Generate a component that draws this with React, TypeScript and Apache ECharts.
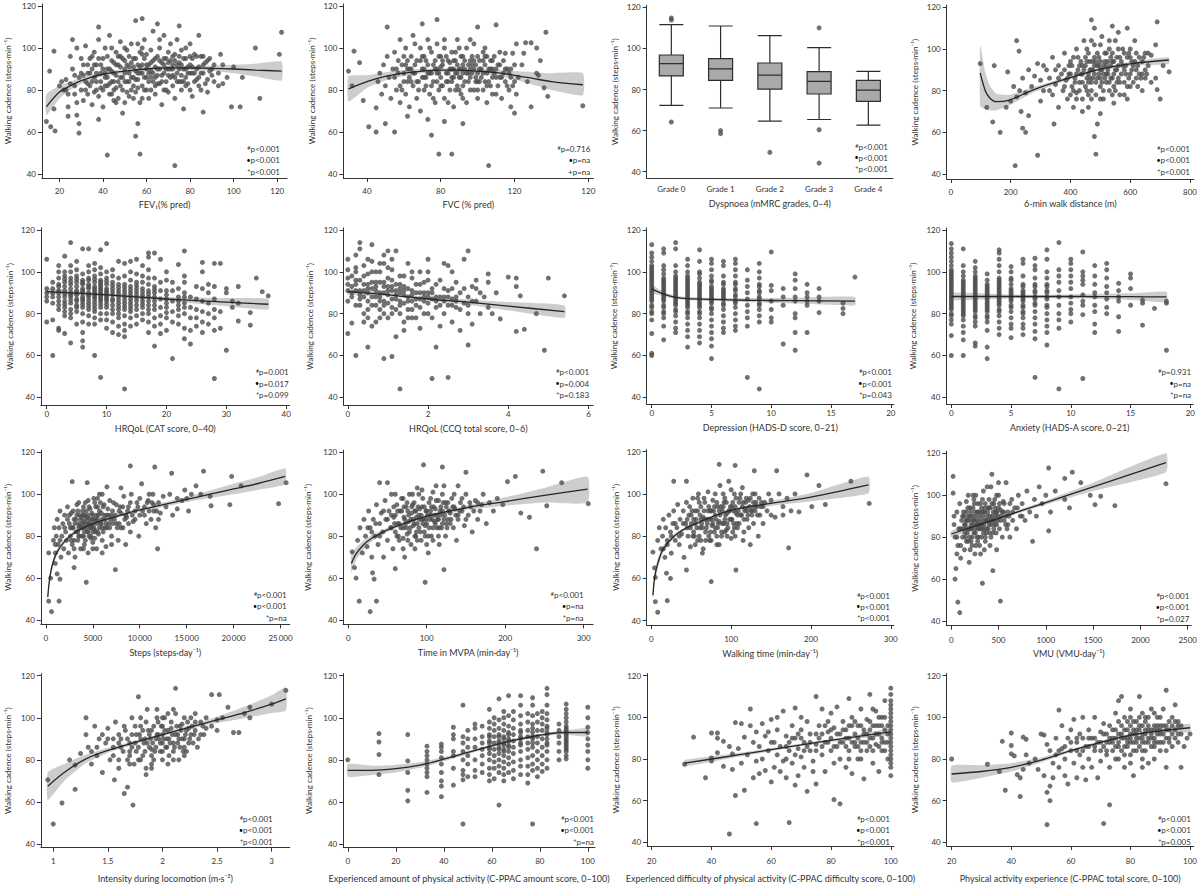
import React, { useEffect, useRef } from "react";
import * as echarts from "echarts";

const INK = "#333333";
const DOT = "#4d4d4d";
const FONT = "Lato, 'Noto Sans', sans-serif";
const CADENCE = "Walking cadence (steps·min⁻¹)";

// ---- scatter points, flat [x, y, x, y, ...] ----
const fev1Points = [
  14,65, 15.5,89, 16,62.5, 17.5,98.5, 18,60.5, 17.5,71, 24,67.5, 26,104, 28,68, 29,59.5, 29,64, 38,66, 38,110,
  42,49, 55,58, 56,64, 57,49.5, 73,44, 55,113, 58,114, 65,111.5, 75,110.5, 110,100, 103,72, 99,72, 112,76,
  122,107.5, 121,97, 104,86, 86,69.5, 94,97, 84,106, 95,83, 88,79,
  20,82, 21,84, 22,80, 23,85, 24,78, 24,72, 25,96, 25,83, 26,90, 27,87, 27,78, 28,100, 28,74, 29,86, 30,95,
  30,80, 31,92, 31,75, 32,101, 32,84, 33,88, 33,78, 34,95, 34,82, 35,73, 35,90, 36,86, 36,98, 37,80, 37,92,
  38,77, 38,104, 39,88, 39,84, 40,95, 40,72, 41,82, 41,100, 42,90, 42,86, 43,106, 43,78, 44,94, 44,84, 45,75,
  45,88, 46,98, 46,81, 47,92, 47,76, 48,86, 48,103, 49,80, 49,69, 50,94, 50,88, 51,84, 51,99, 52,77, 52,91,
  53,86, 53,102, 54,82, 54,95, 55,79, 55,89, 56,92, 56,85, 57,98, 57,74, 58,88, 58,82, 59,95, 59,104, 60,86,
  60,80, 61,92, 61,76, 62,89, 62,99, 63,84, 63,108, 64,91, 64,78, 65,87, 65,96, 66,83, 66,100, 67,93, 67,73,
  68,88, 68,106, 69,84, 69,95, 70,90, 70,79, 71,102, 71,86, 72,92, 72,82, 73,97, 73,76, 74,88, 74,104, 75,84,
  75,93, 76,80, 76,99, 77,90, 77,71, 78,86, 78,95, 79,83, 80,92, 80,102, 81,88, 81,77, 82,97, 83,85, 84,91,
  85,96, 85,80, 86,88, 87,93, 88,85, 89,95, 90,90, 91,84, 93,88, 95,92, 97,86, 100,91,
  35,84, 36,79, 37,88, 38,95, 39,81, 40,90, 41,86, 42,96, 43,83, 44,89, 45,93, 46,87, 47,84, 48,91, 49,95, 50,84,
  51,79, 52,88, 53,93, 54,86, 55,95, 56,81, 57,88, 58,92, 59,86, 60,97, 61,84, 62,93, 63,88, 64,95, 65,83, 66,90,
  67,87, 68,95, 69,80, 70,93, 71,90, 72,87, 73,94, 74,84, 75,90, 76,87, 77,95, 78,82, 79,91, 80,88, 81,95, 82,84,
  83,90, 84,86, 86,92, 88,94, 90,87, 44,78, 46,74, 48,96, 52,96, 56,102, 60,92, 64,86, 68,80, 72,96, 76,92, 80,80,
  62,80, 58,76, 54,76, 50,74, 45,80, 40,80, 33,92, 30,88, 27,82, 23,80,
];
const fev1Core = [
  31,87, 33,83, 35,96, 37,84, 39,92, 41,88, 43,90, 45,84, 47,96, 49,86, 51,92, 53,80, 55,85, 57,91, 59,80, 61,88,
  63,94, 65,90, 67,84, 69,90, 71,94, 73,86, 75,96, 77,84, 79,88, 81,91, 83,96, 85,88, 87,83, 89,89, 91,92, 93,82,
  42,82, 46,92, 50,90, 54,91, 58,97, 62,86, 66,94, 70,87, 74,92, 78,90, 82,88, 86,96, 48,82, 52,84, 56,88, 60,90,
  64,82, 68,92, 72,90, 76,84, 80,96, 84,82, 44,100, 50,100, 58,100, 66,104, 70,98, 78,100, 36,92, 34,88, 32,80,
];

const fvcPoints = [
  30,89, 33,98.5, 32,82, 36,93, 38,75, 41,62.5, 45,60, 45,71.5, 50,64, 51,110, 55,60, 62,67.5, 70,111.5, 73,66,
  75,58.5, 79,49.5, 78,113.5, 82,65, 86,49.5, 92,64, 106,44, 110,111, 100,110, 120,69, 118,72, 129,72, 137,107.5,
  138,77, 136,81, 134,94, 132,100, 157,72.5, 126,102.5, 129,102.5, 121,102, 125,97.5, 119,97.5, 115,97.5,
  46,84, 47,88, 48,78, 49,92, 50,82, 51,96, 52,86, 53,76, 54,90, 55,98, 56,80, 57,88, 58,104, 58,74, 59,92,
  60,84, 61,100, 61,78, 62,90, 63,86, 63,72, 64,96, 65,82, 65,106, 66,88, 67,94, 67,76, 68,84, 69,100, 69,70,
  70,90, 71,80, 71,96, 72,86, 73,104, 73,92, 74,78, 75,88, 75,98, 76,84, 77,94, 77,74, 78,90, 78,102, 79,80,
  80,86, 80,96, 81,92, 82,76, 82,100, 83,88, 84,84, 84,94, 85,80, 86,90, 86,98, 87,72, 87,86, 88,94, 89,82,
  89,104, 90,90, 91,86, 91,78, 92,96, 92,88, 93,84, 94,100, 94,74, 95,92, 96,86, 96,80, 97,96, 98,90, 98,102,
  99,84, 100,88, 100,76, 101,94, 102,86, 103,80, 103,98, 104,92, 105,88, 105,74, 106,84, 107,94, 108,90, 108,78,
  109,96, 110,86, 111,82, 112,92, 113,76, 114,88, 115,84, 116,90, 117,80, 118,86, 120,92, 121,78, 122,86, 124,92,
  127,84, 132,88, 133,87,
  60,88, 62,94, 64,84, 66,92, 68,80, 70,86, 72,94, 74,88, 76,92, 78,84, 80,91, 81,82, 83,96, 84,88, 85,93, 86,84,
  87,90, 88,80, 89,92, 90,86, 91,96, 92,82, 93,90, 94,88, 95,84, 96,94, 97,88, 98,80, 99,92, 100,96, 101,84,
  102,90, 103,88, 104,84, 105,96, 106,90, 107,82, 108,94, 110,90, 112,86, 114,94, 116,82, 118,90, 120,84, 56,90,
  58,82, 60,96, 66,102, 74,100, 82,104, 90,100, 96,104, 104,100, 112,98, 76,76, 84,74, 92,76, 100,80, 110,78,
  88,98, 79,96, 71,90,
];
const fvcCore = [
  55,86, 57,94, 59,80, 61,92, 63,90, 65,88, 67,84, 69,94, 71,86, 73,88, 75,82, 77,90, 79,88, 81,94, 83,84, 85,90,
  87,94, 89,88, 91,90, 93,94, 95,88, 97,92, 99,86, 101,90, 103,94, 105,82, 107,90, 109,88, 111,92, 113,86, 115,90,
  117,88, 119,82, 64,90, 72,82, 80,82, 88,88, 96,90, 104,96, 86,86, 92,92, 98,94, 78,88, 70,96, 62,84, 90,80,
  100,84, 108,86,
];

const walkDistPoints = [
  98,93, 120,72, 140,65, 145,92, 165,60, 190,89, 185,72, 210,82, 215,44, 220,104, 228,99, 235,70, 240,62, 250,60,
  260,68, 290,49, 300,75, 345,64, 480,58, 485,49.5, 490,64, 500,69, 470,114, 480,110, 540,111, 590,110, 690,113,
  700,76, 690,80.5, 730,89, 710,92, 685,102, 685,86, 670,97, 650,98,
  200,75, 220,77, 230,80, 240,86, 250,79, 260,90, 270,82, 280,87, 290,93, 300,85, 310,80, 320,90, 330,86, 340,96,
  340,78, 350,83, 360,92, 360,72, 370,88, 375,80, 380,98, 385,85, 390,76, 395,92, 400,88, 405,82, 410,96, 410,72,
  415,86, 420,100, 420,79, 425,90, 430,84, 435,94, 440,76, 440,88, 445,104, 450,82, 450,92, 455,86, 460,98,
  460,72, 465,90, 470,84, 470,80, 475,94, 480,88, 480,102, 485,78, 490,92, 490,86, 495,96, 500,82, 500,90,
  505,106, 510,88, 510,76, 515,94, 520,84, 520,98, 525,90, 530,80, 530,100, 535,86, 540,94, 545,74, 545,88,
  550,104, 555,84, 560,92, 565,96, 565,78, 570,88, 575,100, 580,84, 585,92, 590,76, 595,98, 600,88, 605,94,
  610,84, 615,104, 620,90, 625,82, 630,96, 640,88, 650,86, 660,92, 670,84,
  380,90, 390,86, 400,94, 410,80, 420,88, 430,92, 440,84, 450,96, 455,80, 460,88, 465,94, 470,90, 475,86, 480,96,
  485,84, 490,98, 495,88, 500,94, 505,84, 510,92, 515,98, 520,88, 525,94, 530,84, 535,92, 540,98, 545,82, 550,90,
  555,96, 560,86, 570,94, 580,90, 590,96, 600,82, 610,92, 620,98, 630,88, 640,94, 650,90, 660,98, 455,100,
  470,104, 500,102, 530,104, 560,108, 600,100, 350,90, 330,80, 310,92, 420,76, 440,70, 460,78, 500,76, 540,78,
  580,78, 620,86, 640,80,
];
const walkDistCore = [
  395,88, 405,92, 415,84, 425,96, 435,88, 445,90, 455,94, 465,86, 475,90, 485,94, 495,92, 505,90, 515,86, 525,88,
  535,96, 545,94, 555,90, 565,84, 575,92, 585,88, 595,86, 605,90, 615,94, 625,92, 635,86, 645,96, 655,88, 430,80,
  470,76, 510,80, 550,80, 590,82, 480,92, 500,86, 520,92, 460,84, 440,92, 540,86, 560,100, 580,98, 600,96, 380,82,
  360,86, 400,78,
];

// strips: [x, [y values]]
const catStrips: [number, number[]][] = [
  [0, [76, 86, 88, 90, 92, 106]],
  [1, [60, 77, 85, 88, 90, 92, 95]],
  [2, [72, 73, 82, 86, 88, 91, 94, 97, 100, 103]],
  [3, [70.5, 79, 83, 86, 88, 91, 93, 95, 98, 100, 107.5]],
  [4, [66, 78, 82, 85, 88, 90, 92, 94, 97, 100, 103, 114]],
  [5, [75, 81, 84, 87, 89, 91, 93, 95, 98, 101, 105]],
  [6, [64, 67, 71, 76, 80, 83, 86, 88, 90, 92, 94, 96, 99, 111]],
  [7, [75, 79, 82, 85, 88, 90, 92, 94, 97, 100, 103, 111]],
  [8, [60, 75, 78, 81, 84, 87, 89, 91, 93, 95, 98, 101, 104]],
  [9, [49.5, 77, 80, 83, 86, 88, 90, 92, 94, 96, 99, 102, 110.5]],
  [10, [73, 77, 80, 83, 86, 88, 90, 92, 94, 97, 100, 113.5]],
  [11, [71, 76, 80, 84, 87, 89, 92, 95, 98, 101]],
  [12, [70, 74, 78, 82, 85, 88, 91, 94, 97, 105]],
  [13, [44, 69, 72, 75, 79, 82, 85, 88, 91, 94, 98, 104]],
  [14, [74, 78, 81, 84, 87, 90, 93, 96, 100, 105]],
  [15, [75, 79, 82, 86, 89, 92, 95, 99, 106]],
  [16, [77, 80, 83, 86, 89, 92, 95, 98, 103]],
  [17, [71, 76, 80, 84, 88, 91, 94, 97, 101, 107, 109]],
  [18, [64.5, 74, 78, 82, 86, 90, 93, 97, 109]],
  [19, [70.5, 75, 79, 83, 87, 91, 95, 106]],
  [20, [72, 78, 83, 87, 91, 96, 100]],
  [21, [58.5, 76, 81, 86, 91, 95]],
  [22, [75, 79, 84, 88, 92, 103.5]],
  [23, [68, 73, 80, 85, 90, 95, 98, 110]],
  [24, [65.5, 72, 78, 83, 88]],
  [25, [74, 78, 82, 87, 93]],
  [26, [71, 76, 81, 86, 92, 100, 104.5]],
  [27, [75, 80, 85, 90, 94]],
  [28, [49, 72, 78, 82, 87, 93, 104]],
  [29, [73, 81, 104]],
  [30, [62.5, 90, 92]],
  [31, [83, 86]],
  [32, [76.5, 85, 93]],
  [34, [74.5, 80.5]],
  [35, [97]],
  [36, [90.5]],
  [37, [88.5]],
];
const catCore: [number, number[]][] = [
  [2, [84, 90, 93]], [3, [81, 84.5, 89.5, 96.5]], [4, [80, 86.5, 89, 95.5]], [5, [83, 86, 90, 96.5]],
  [6, [84.5, 87, 91, 95]], [7, [83.5, 86.5, 89, 93, 96]], [8, [82.5, 85.5, 88, 90, 92, 96.5]],
  [9, [84.5, 87, 89, 91, 93, 95]], [10, [84.5, 87, 89, 91, 95.5]], [11, [82, 86, 90.5, 93.5]],
  [12, [80, 83.5, 86.5, 89.5, 92.5]], [13, [83.5, 86.5, 89.5, 92.5]], [14, [82.5, 85.5, 88.5, 91.5]],
  [15, [84, 87.5, 90.5, 93.5]], [16, [84.5, 87.5, 90.5]], [17, [82, 86, 89.5]], [18, [84, 88, 91.5]],
  [20, [80.5, 85, 89]], [22, [82, 86]], [23, [83, 88]],
];

const ccqPoints = [
  0,70.5, 0.1,75.5, 0.2,60, 0.5,64, 0.9,58.5, 1.1,59.5, 1.3,44, 2.1,49, 2.5,49.5, 3,65, 2.2,64, 4.9,62.5, 5.4,88.5,
  5,97, 4.7,80, 4.4,72.5, 4.2,71.5, 4,97.5, 4.2,97, 4.2,93, 4.3,88.5, 3.8,77.5, 3.5,99, 3,110,
  0,91, 0,94, 0,97, 0,101, 0,106, 0.1,88, 0.1,93, 0.2,84, 0.2,96, 0.2,100, 0.2,108, 0.3,87, 0.3,91, 0.3,111,
  0.3,114, 0.4,80, 0.4,94, 0.4,103, 0.5,78, 0.5,86, 0.5,90, 0.5,99, 0.6,84, 0.6,92, 0.6,105, 0.6,113, 0.7,76,
  0.7,88, 0.7,95, 0.8,82, 0.8,90, 0.8,100, 0.9,86, 0.9,93, 0.9,108, 1,78, 1,89, 1,97, 1,110, 1.1,83, 1.1,91,
  1.1,101, 1.2,69, 1.2,87, 1.2,94, 1.2,110, 1.3,80, 1.3,90, 1.3,98, 1.4,76, 1.4,85, 1.4,93, 1.5,82, 1.5,88,
  1.5,104, 1.6,78, 1.6,91, 1.6,97, 1.7,84, 1.7,94, 1.8,73, 1.8,87, 1.8,100, 1.9,80, 1.9,90, 2,85, 2,96, 2,106,
  2.1,78, 2.1,92, 2.2,83, 2.2,88, 2.3,74, 2.3,96, 2.4,86, 2.4,80, 2.5,91, 2.5,103, 2.6,76, 2.6,87, 2.7,83,
  2.7,95, 2.8,90, 2.8,72, 2.9,85, 2.9,106, 3,80, 3,88, 3.1,93, 3.1,75, 3.2,86, 3.2,92, 3.3,80, 3.4,88, 3.5,83,
  3.5,95, 3.6,80, 3.7,90,
  0,86, 0.1,98, 0.2,91, 0.3,96, 0.4,88, 0.5,94, 0.6,88, 0.7,91, 0.7,100, 0.8,86, 0.8,95, 0.9,90, 0.9,80, 1,93,
  1,85, 1.1,87, 1.1,96, 1.2,91, 1.2,82, 1.3,86, 1.3,94, 1.4,89, 1.4,98, 1.5,92, 1.5,78, 1.6,86, 1.6,82, 1.7,90,
  1.7,78, 1.8,94, 1.8,83, 1.9,86, 1.9,95, 2,90, 2,80, 2.1,87, 2.2,94, 2.3,88, 2.4,92, 2.5,84, 2.6,92, 2.7,88,
  2.8,82, 2.9,92, 3,84, 3.1,86, 3.2,96, 3.3,90, 0.4,76, 0.6,74, 0.8,78, 1.4,72, 1.6,100, 2,100, 2.4,104, 2.6,100,
  0.5,106, 0.9,104, 1.1,106,
];
const ccqCore = [
  0.1,90, 0.2,94, 0.3,89, 0.4,91, 0.5,92, 0.6,95, 0.7,93, 0.8,88, 0.9,95, 1,91, 1.1,93, 1.2,89, 1.3,92, 1.4,91,
  1.5,86, 1.6,89, 1.7,87, 1.8,90, 1.9,88, 2,88, 2.1,90, 2.2,86, 2.3,84, 2.4,88, 2.5,88, 2.6,84, 2.7,86, 0.3,84,
  0.5,82, 0.7,84, 0.9,84, 1.1,80, 1.3,84, 0.2,102, 0.4,98, 0.6,100, 0.8,104, 1,102,
];

const hadsDStrips: [number, number[]][] = [
  [0, [60, 61, 70.5, 77, 81, 84, 87, 89, 91, 93, 95, 97, 99, 101, 103, 105, 107, 109, 113]],
  [1, [67.5, 74, 78, 81, 84, 87, 89, 91, 93, 95, 97, 99, 103, 109, 111]],
  [2, [71, 73, 76, 79, 82, 85, 87, 89, 91, 93, 95, 97, 100, 103, 111, 114]],
  [3, [64, 69, 72, 75, 78, 81, 84, 86, 88, 90, 92, 94, 96, 98, 100, 103, 106]],
  [4, [66, 69, 72, 75, 78, 81, 84, 86, 88, 90, 92, 94, 97, 100, 105, 110.5]],
  [5, [58.5, 64.5, 68, 71, 74, 77, 80, 83, 86, 88, 90, 92, 95, 98, 101, 104, 106]],
  [6, [71, 73, 76, 79, 82, 85, 88, 90, 92, 95, 98, 103, 105]],
  [7, [72, 74, 77, 80, 83, 86, 89, 92, 95, 98, 101, 104, 106]],
  [8, [49.5, 74, 78, 81, 84, 87, 90, 93, 96, 101]],
  [9, [44, 76, 79, 82, 85, 88, 91, 94, 97, 100, 104]],
  [10, [76, 78, 82, 86, 91, 93.5, 109.5]],
  [11, [65.5, 84, 88, 92]],
  [12, [62.5, 71, 78, 80, 86, 88, 92, 96, 99]],
  [13, [71, 84, 86, 88, 90, 94]],
  [14, [80.5, 86, 88, 92]],
  [16, [80, 82.5, 85]],
  [17, [97.5]],
];
const hadsDCore: [number, number[]][] = [
  [0, [80, 83, 86, 88, 90, 92, 94, 96, 98, 100, 102]], [1, [80, 83, 86, 88, 90, 92, 94, 96, 101]],
  [2, [81, 84, 86, 88, 90, 92, 94, 96, 98]], [3, [80, 83, 85, 87, 89, 91, 93, 95, 97]],
  [4, [80, 83, 85, 87, 89, 91, 93, 95, 99]], [5, [82, 85, 87, 89, 91, 93, 96]], [6, [84, 87, 89, 91, 94]],
  [7, [85, 88, 91, 94]], [9, [84, 87, 90, 93]],
];

const hadsAStrips: [number, number[]][] = [
  [0, [60, 69.5, 75, 77, 80, 83, 85, 87, 89, 91, 93, 95, 97, 99, 101, 103, 105, 107, 109, 111, 113.5]],
  [1, [60, 67.5, 71, 74, 77, 80, 82, 84, 86, 88, 90, 92, 94, 96, 98, 100, 103, 111]],
  [2, [64.5, 66, 74, 76, 79, 82, 84, 86, 88, 90, 92, 94, 96, 98, 100, 102, 105]],
  [3, [58.5, 64, 72, 76, 79, 82, 84, 86, 88, 90, 92, 94, 96, 99]],
  [4, [70, 73, 76, 79, 82, 85, 87, 89, 91, 93, 95, 97, 100, 103, 106, 109, 110.5]],
  [5, [68.5, 73, 75, 78, 81, 84, 87, 89, 91, 94, 97, 100, 102.5]],
  [6, [70, 73, 75, 78, 81, 84, 87, 89, 91, 94, 98, 104, 106]],
  [7, [49.5, 68, 71.5, 75, 78, 81, 85, 88, 91, 94, 97, 101, 103, 106.5]],
  [8, [65, 71, 74, 77, 80, 84, 88, 91, 94, 97, 100, 106, 110.5]],
  [9, [44, 73, 77, 80, 84, 88, 91, 95, 98, 101, 114]],
  [10, [76, 80, 82, 85, 88, 92, 95, 98, 101, 104, 106]],
  [11, [49, 79.5, 84, 86, 89, 94, 96, 98, 100, 109.5]],
  [12, [71, 75, 81, 84, 88, 90, 94, 98, 103]],
  [13, [80, 83, 87, 90, 93, 97, 101, 104]],
  [14, [71.5, 78.5, 86, 88, 91, 94.5]],
  [15, [84, 92, 97, 99]],
  [16, [74.5, 85, 86.5]],
  [17, [82.5]],
  [18, [62.5, 85, 86]],
];
const hadsACore: [number, number[]][] = [
  [0, [79, 82, 84, 86, 88, 90, 92, 94, 96, 98, 100]], [1, [79, 81, 83, 85, 87, 89, 91, 93, 95]],
  [2, [78, 81, 83, 85, 87, 89, 91, 93, 95, 97]], [3, [78, 81, 83, 85, 87, 89, 91, 93]],
  [4, [81, 84, 86, 88, 90, 92, 94, 96]], [5, [83, 86, 88, 90, 92, 96]], [6, [80, 83, 86, 88, 90, 93]],
  [7, [84, 87, 90, 93]], [8, [83, 87, 90, 93]],
];

const stepsPoints = [
  300,72, 300,49, 500,60, 600,44, 1000,67, 1200,62, 1400,49, 1500,59.5, 2800,106, 3000,65, 4300,58, 4400,105.5,
  7400,64, 9000,113.5, 11600,113, 11900,74, 13400,110, 16800,111, 17600,94.5, 19600,95, 19800,108.5, 20800,104,
  24800,95.5, 25600,105.5, 17500,99, 15500,100, 16000,104, 14800,102, 14000,98, 6500,103.5, 8000,103,
  800,78, 900,84, 1000,72, 1100,80, 1200,88, 1300,76, 1400,84, 1500,92, 1600,70, 1700,80, 1800,86, 1900,74,
  2000,90, 2100,82, 2200,78, 2300,94, 2400,72, 2500,86, 2600,80, 2700,91, 2800,76, 2900,84, 3000,88, 3100,70,
  3200,82, 3300,95, 3400,78, 3500,86, 3600,90, 3700,74, 3800,84, 3900,92, 4000,80, 4000,87, 4100,76, 4200,96,
  4300,84, 4400,89, 4500,72, 4500,82, 4600,86, 4700,93, 4800,79, 4900,85, 5000,90, 5000,77, 5100,98, 5200,83,
  5300,88, 5400,74, 5500,94, 5600,81, 5700,100, 5800,86, 5900,91, 6000,78, 6200,95, 6300,84, 6400,75, 6500,90,
  6700,86, 6800,97, 7000,80, 7100,92, 7300,88, 7500,95, 7700,78, 7800,86, 8000,91, 8200,84, 8300,99, 8500,76,
  8600,89, 8800,94, 9000,82, 9100,100, 9300,87, 9500,92, 9700,96, 9900,80, 10000,90, 10200,105, 10500,94,
  10700,86, 10900,97, 11000,92, 11200,88, 11400,100, 11500,95, 11700,84, 12000,96, 12200,91, 12500,99, 12800,94,
  13200,100, 13500,90, 14000,93, 14500,97, 15200,92, 15000,98, 16500,100,
  2500,90, 2800,84, 3000,78, 3200,88, 3400,92, 3500,80, 3600,85, 3800,89, 3900,80, 4000,84, 4100,90, 4200,78,
  4300,88, 4400,82, 4500,86, 4600,80, 4700,88, 4800,84, 4900,91, 5000,82, 5000,86, 5100,88, 5200,79, 5300,94,
  5400,86, 5500,82, 5600,90, 5700,84, 5800,96, 6000,88, 6100,82, 6200,90, 6400,86, 6600,93, 6800,84, 7000,90,
  7200,96, 7500,86, 7800,92, 8000,84, 8200,94, 8500,90, 8800,86, 9000,96, 9500,88, 10000,98, 10500,90, 11000,100,
  11500,92, 12000,88, 3500,96, 4000,94, 4500,97, 5500,98, 6000,100, 2000,84, 1500,78, 1000,76, 3000,74, 4000,74,
  5000,74, 6000,72, 7000,76,
];
const stepsCore = [
  3100,86, 3300,90, 3500,84, 3700,88, 3900,86, 4100,82, 4300,92, 4500,90, 4700,84, 4900,88, 5100,84, 5300,82,
  5500,88, 5700,92, 5900,86, 6100,94, 6300,88, 6500,84, 6700,90, 6900,88, 7100,86, 7400,90, 7600,84, 7900,94,
  8400,88, 8700,92, 9200,90, 9800,94, 10300,92, 10800,96, 11300,96, 11800,92, 2300,88, 2600,84, 2900,92, 3600,80,
  4200,86, 4800,80, 5400,90, 6000,84, 4000,90, 4600,94, 5200,96, 3400,82, 2700,78,
];

const mvpaPoints = [
  5,72.5, 8,65, 10,60, 14,49, 28,44, 36,49, 33,59.5, 31,62.5, 40,105.5, 50,105.5, 60,64.5, 96,114, 98,58, 122,64,
  120,113, 150,110.5, 240,74, 248,111, 272,105.5, 306,95.5, 253,94.5, 231,89, 220,91, 213,108.5, 203,106, 197,95,
  12,78, 15,84, 18,72, 20,88, 22,80, 24,75, 26,92, 28,84, 30,70, 32,88, 34,80, 36,95, 38,76, 40,86, 42,91, 44,82,
  45,70, 47,97, 48,88, 50,78, 52,92, 54,84, 55,100, 57,74, 58,89, 60,82, 62,95, 63,86, 65,78, 66,92, 68,98, 70,84,
  71,89, 72,70, 74,94, 75,81, 77,87, 78,100, 80,76, 81,91, 83,85, 84,96, 86,80, 87,89, 88,103, 90,84, 91,93, 93,78,
  94,88, 95,98, 97,82, 99,92, 100,86, 102,72, 103,96, 105,90, 106,80, 108,101, 110,87, 111,93, 113,84, 115,97,
  116,76, 118,90, 120,86, 122,104, 124,80, 125,94, 127,88, 130,91, 132,98, 134,84, 136,93, 138,78, 140,88, 143,96,
  145,92, 148,85, 150,100, 153,90, 156,94, 158,82, 162,97, 165,88, 168,92, 172,100, 176,86, 180,96, 185,92, 190,98,
  50,88, 55,84, 60,90, 62,80, 65,86, 68,92, 70,79, 72,88, 74,84, 76,92, 78,82, 80,88, 82,95, 84,86, 85,80, 86,92,
  88,86, 90,90, 92,82, 94,94, 96,88, 98,85, 100,92, 102,80, 104,88, 106,94, 108,84, 110,90, 112,97, 114,88,
  116,84, 118,94, 120,92, 122,88, 124,96, 126,84, 128,92, 130,86, 135,94, 140,90, 145,98, 150,88, 160,92, 170,95,
  40,80, 45,92, 30,82, 35,86, 25,84, 60,100, 75,96, 90,100, 105,98, 120,100, 135,100, 140,104, 70,74, 85,74,
  100,76, 115,80,
];
const mvpaCore = [
  55,90, 59,86, 63,92, 67,84, 71,94, 73,86, 77,90, 79,84, 81,94, 83,88, 85,92, 87,82, 89,94, 91,88, 93,90, 95,86,
  97,94, 99,88, 101,90, 103,84, 105,92, 107,88, 109,94, 111,86, 113,90, 115,88, 117,92, 119,84, 121,96, 123,90,
  125,86, 127,96, 129,92, 131,88, 133,94, 137,90, 142,92, 147,94, 155,96, 165,96, 64,80, 76,78, 88,78, 98,80,
  108,78, 58,94, 70,98, 82,100, 94,102, 112,104,
];

const walkTimePoints = [
  2,72.5, 4,65, 5,60.5, 5,49, 8,44, 20,49.5, 24,60, 19,62.5, 28,106, 44,106, 44,64, 75,58.5, 85,114, 106,64,
  105,113.5, 129,111, 157,111, 172,74.5, 195,109, 210,104, 218,95, 201,94, 250,106, 273,95.5, 185,91.5, 165,90,
  8,78, 10,84, 12,74, 14,80, 15,88, 17,70, 18,84, 20,76, 22,90, 24,82, 25,72, 27,86, 28,92, 30,78, 32,84, 33,95,
  35,76, 36,88, 38,81, 40,92, 41,70, 43,86, 44,96, 46,80, 47,90, 49,75, 50,86, 52,98, 53,82, 55,92, 56,88, 58,78,
  59,100, 61,84, 62,94, 64,72, 65,89, 67,96, 68,82, 70,88, 71,101, 73,78, 74,92, 76,85, 77,97, 79,82, 80,90, 82,76,
  83,94, 85,87, 86,104, 88,80, 89,92, 91,86, 92,98, 94,83, 95,91, 97,106, 98,88, 100,79, 101,94, 103,86, 104,100,
  106,91, 108,84, 110,96, 112,90, 114,103, 116,82, 118,93, 120,88, 122,97, 124,76, 126,92, 128,86, 130,100,
  132,94, 134,80, 136,90, 138,96, 140,86, 145,92, 150,97, 155,89, 160,100, 165,94, 170,98, 175,92, 180,100,
  40,86, 45,84, 50,90, 52,80, 55,86, 58,92, 60,80, 62,88, 64,84, 66,92, 68,78, 70,86, 72,94, 74,82, 76,88, 78,92,
  80,84, 82,96, 84,86, 86,90, 88,82, 90,94, 92,88, 94,96, 96,84, 98,92, 100,88, 102,96, 104,84, 106,98, 108,90,
  110,86, 112,100, 114,94, 116,88, 118,96, 120,92, 122,84, 124,98, 126,90, 128,96, 130,92, 135,98, 140,94, 150,90,
  25,80, 30,86, 35,80, 20,78, 15,74, 55,76, 65,74, 75,78, 85,76, 95,80, 105,80, 115,78, 60,96, 80,100,
];
const walkTimeCore = [
  45,88, 49,84, 51,92, 53,88, 57,84, 61,90, 63,86, 67,88, 69,84, 71,92, 73,88, 75,92, 77,86, 79,94, 81,88, 83,84,
  85,92, 87,94, 89,86, 91,96, 93,90, 95,86, 97,92, 99,94, 101,88, 103,92, 105,94, 107,86, 109,92, 111,98, 113,90,
  115,96, 117,92, 119,98, 121,90, 123,94, 125,92, 127,100, 129,94, 131,96, 133,90, 137,94, 142,96, 147,100, 54,80,
  62,78, 72,80, 82,80, 92,82, 102,82, 48,94, 58,98, 66,98, 90,100, 100,102,
];

const vmuPoints = [
  20,109, 20,101, 30,90, 40,60, 50,65, 70,49, 90,44, 60,72, 330,58, 440,64, 520,49.5, 1030,83, 1030,113, 1250,94,
  1370,106, 1470,100, 1520,95.5, 1580,99.5, 1730,95, 2270,105.5, 1280,111, 1200,108, 1100,102, 1200,98,
  30,86, 40,80, 60,92, 70,76, 80,84, 90,96, 100,70, 110,88, 120,80, 130,92, 140,74, 150,86, 160,97, 170,82, 180,90,
  190,68, 200,84, 200,94, 210,78, 220,88, 230,100, 240,82, 250,92, 260,76, 270,86, 280,96, 290,80, 300,90, 310,72,
  320,86, 330,98, 340,82, 350,92, 360,78, 370,88, 380,104, 390,84, 400,94, 410,76, 420,88, 430,110, 440,82,
  450,96, 460,86, 470,92, 480,74, 490,88, 500,100, 510,84, 520,93, 540,80, 550,97, 560,88, 580,106, 590,84,
  600,92, 620,80, 640,98, 650,88, 670,94, 690,84, 710,100, 730,90, 750,96, 780,88, 800,102, 830,92, 860,78,
  880,98, 900,90, 930,104, 960,96, 1000,100, 1050,92,
  100,84, 120,90, 140,86, 150,80, 160,92, 170,88, 180,78, 190,84, 200,90, 210,86, 220,80, 230,94, 240,88, 250,84,
  260,90, 270,80, 280,86, 290,92, 300,84, 310,96, 320,80, 330,88, 340,92, 350,84, 360,96, 370,82, 380,90, 390,94,
  400,86, 410,90, 420,80, 430,96, 440,88, 450,84, 460,98, 470,90, 480,86, 500,94, 520,88, 540,92, 560,96, 580,90,
  600,86, 620,96, 650,92, 700,94, 750,90, 200,74, 250,72, 300,76, 350,74, 180,100, 260,100, 340,102, 420,104,
  500,106, 100,76, 60,80,
];
const vmuCore = [
  125,84, 135,90, 145,82, 155,88, 165,84, 175,94, 185,88, 195,80, 205,92, 215,84, 225,90, 235,86, 245,96, 255,82,
  265,88, 275,92, 285,84, 295,88, 305,86, 315,92, 325,84, 335,90, 345,86, 355,94, 365,88, 375,84, 385,92, 395,88,
  405,82, 415,94, 425,86, 435,90, 445,92, 455,88, 465,94, 475,82, 485,92, 495,90, 510,96, 530,90, 555,92, 575,86,
  610,90, 160,78, 220,76, 280,78, 360,80, 240,98, 320,94, 400,98, 480,100,
];

const intensityPoints = [
  0.95,70.5, 1.0,49.5, 1.08,59.5, 1.2,66, 1.2,77.5, 1.15,80, 1.3,100, 1.56,70.5, 1.65,64, 1.68,67, 1.73,58.5,
  1.85,73, 2.12,114, 2.45,111, 2.52,111, 2.6,105, 2.65,93, 2.7,93, 2.75,102, 2.8,100, 2.8,105, 3.0,106.5, 3.13,113,
  2.5,99, 1.78,110,
  1.25,83, 1.3,92, 1.32,86, 1.35,78, 1.38,96, 1.4,82, 1.42,90, 1.45,74, 1.48,88, 1.5,95, 1.52,80, 1.55,86, 1.57,98,
  1.6,76, 1.62,90, 1.64,84, 1.66,94, 1.68,80, 1.7,88, 1.72,100, 1.74,78, 1.76,92, 1.78,86, 1.8,96, 1.82,82,
  1.84,90, 1.86,104, 1.88,86, 1.9,94, 1.92,80, 1.94,90, 1.96,98, 1.98,88, 2.0,92, 2.0,84, 2.02,100, 2.04,90,
  2.06,82, 2.08,95, 2.1,88, 2.12,102, 2.14,92, 2.16,86, 2.18,97, 2.2,90, 2.22,84, 2.24,95, 2.26,100, 2.28,88,
  2.3,94, 2.32,86, 2.35,98, 2.38,92, 2.4,100, 2.45,96, 1.85,76, 1.95,104, 2.05,78, 1.6,92, 1.7,82, 1.9,85, 2.0,96,
  2.15,80,
  1.5,90, 1.55,82, 1.6,88, 1.65,96, 1.7,84, 1.72,92, 1.75,88, 1.78,80, 1.8,90, 1.82,94, 1.84,84, 1.86,88, 1.88,92,
  1.9,82, 1.92,96, 1.94,86, 1.96,92, 1.98,84, 2.0,88, 2.02,94, 2.04,86, 2.06,90, 2.08,98, 2.1,84, 2.12,92, 2.14,88,
  2.16,96, 2.18,90, 2.2,86, 2.22,94, 2.24,88, 2.26,92, 2.3,98, 2.35,92, 2.4,95, 1.4,86, 1.45,92, 1.35,84, 1.8,100,
  2.0,100, 2.1,104, 1.9,76, 2.0,80, 2.2,82, 2.5,94, 2.55,100,
];
const intensityCore = [
  1.55,90, 1.62,86, 1.68,90, 1.72,86, 1.76,84, 1.79,92, 1.83,88, 1.87,94, 1.89,90, 1.91,88, 1.93,84, 1.95,92,
  1.97,90, 1.99,96, 2.01,90, 2.03,86, 2.05,94, 2.07,88, 2.09,92, 2.11,86, 2.13,96, 2.15,90, 2.17,94, 2.19,84,
  2.21,92, 2.23,98, 2.25,90, 2.27,96, 2.29,92, 2.33,90, 2.37,96, 1.6,80, 1.7,78, 1.8,80, 1.9,78, 2.1,80, 2.2,100,
  2.3,102, 1.75,96, 1.85,98, 1.95,100, 2.05,102,
];

const amountStrips: [number, number[]][] = [
  [0, [80]],
  [13, [73, 82.5, 88.5, 92.5]],
  [25, [60.5, 65.5, 74, 79.5, 92]],
  [33, [64.5, 72, 74, 76, 78, 80, 82, 84, 86.5]],
  [39, [62.5, 67.5, 70, 74, 78, 81, 84, 86, 87.5]],
  [44, [68, 76, 82, 84, 90, 92, 95.5]],
  [48, [49.5, 70.5, 73, 75, 80, 84, 88, 91, 106]],
  [50, [72, 78, 82, 86, 90, 94]],
  [53, [72, 75, 80, 86, 90, 95, 97]],
  [56, [74, 78, 82, 85, 88, 91, 96]],
  [59, [70, 73, 76, 80, 83, 86, 89, 92, 95, 98, 104]],
  [61, [71, 76, 79, 82, 85, 88, 91, 94, 97, 100]],
  [63, [58.5, 74, 77, 80, 83, 86, 89, 92, 95, 99, 109]],
  [65, [70, 73, 76, 79, 82, 85, 88, 91, 94, 97, 100, 103]],
  [67, [74, 78, 81, 84, 87, 90, 93, 96, 101, 110.5]],
  [69, [71, 75, 79, 83, 86, 89, 92, 95, 99, 103]],
  [72, [73, 77, 80, 84, 88, 91, 94, 97, 101, 106, 110.5]],
  [75, [69, 73, 77, 81, 85, 88, 91, 94, 98, 102]],
  [77, [49.5, 75, 78, 82, 86, 90, 93, 97, 101, 106, 109.5]],
  [79, [72, 76, 80, 84, 88, 91, 94, 98, 102]],
  [81, [74.5, 78, 82, 86, 90, 94, 97, 100, 103]],
  [83, [76, 80, 84, 87, 90, 93, 96, 99, 102, 106, 111, 114]],
  [88, [80, 84, 88, 91, 94, 97]],
  [91, [80.5, 82, 84, 86, 88, 90, 92, 94, 96, 98, 100, 102, 104, 106.5]],
  [100, [76, 80, 84, 87, 90, 93, 95.5, 100, 105]],
];
const amountCore: [number, number[]][] = [
  [59, [85, 88, 91]], [63, [85, 88, 91]], [65, [84, 87, 90]], [67, [86, 89, 92]], [72, [87, 90, 93]],
  [77, [88, 91, 95]], [83, [88, 92, 95]], [91, [85, 87, 89, 91, 93, 95]],
];

const difficultyPoints = [
  31,77.5, 34,90.5, 38,71, 40,79, 40,80.5, 40,92.5, 42,92.5, 42,90, 42,83, 44,76.5, 44,88.5, 46,44, 46,86, 47,75,
  47,82.5, 48,97.5, 48,62.5, 49,85, 50,78, 50,97, 51,65, 51,90.5, 52,82, 53,104, 53,96, 54,71, 54,88, 55,93, 55,49,
  55,79, 56,86, 56,73, 57,80, 57,97, 58,91, 58,74.5, 59,84, 59,93, 60,69, 60,99, 61,88, 61,76, 62,82, 62,100, 63,86,
  63,74, 64,103, 64,79, 65,91, 65,71, 66,49.5, 66,88, 66,84, 67,96, 67,78, 68,67.5, 68,104.5, 68,90, 69,85, 69,72,
  70,81, 70,94, 70,100, 71,76, 71,88, 72,64.5, 72,98, 73,84, 73,92, 74,74, 74,79, 75,110, 75,87, 75,68, 76,90,
  76,96, 77,82, 77,104, 78,88, 78,74, 79,93, 79,98, 80,84, 80,90, 80,102, 81,60.5, 81,78, 81,95, 82,86, 82,105,
  83,58.5, 83,92, 83,80, 84,88, 84,98, 85,76, 85,94, 86,90, 86,109, 86,84, 87,100, 87,73, 88,92, 88,86, 89,80,
  89,96, 90,104, 90,88, 91,70.5, 91,94, 92,84, 92,99, 93,111, 93,90, 94,78, 94,96, 95,103, 95,87, 96,74, 96,92,
  97,100, 97,84, 98,94, 98,108, 99,88, 99,80, 100,72, 100,76, 100,84, 100,88, 100,92, 100,96, 100,100, 100,104,
  100,111, 100,114,
  80,94, 82,92, 84,94, 85,86, 86,96, 87,88, 88,98, 89,90, 90,96, 90,84, 91,88, 92,92, 93,86, 93,98, 94,90, 94,104,
  95,92, 96,86, 96,100, 97,90, 97,96, 98,88, 98,100, 99,92, 99,96, 100,80, 100,86, 100,90, 100,94, 100,98,
  100,102, 100,106, 60,88, 65,80, 70,90, 72,86, 75,92, 77,86, 78,96, 68,82, 62,94,
];
const difficultyCore = [
  100,82, 100,78, 100,108, 97,88, 95,96, 93,94, 91,92, 89,86, 87,96, 85,90, 83,88, 81,86, 79,88, 77,92, 75,84,
  73,88, 71,84, 69,92, 67,90, 65,86, 86,80, 90,80, 94,84, 98,84, 96,96, 92,88, 88,88,
];

const totalPoints = [
  20,80, 32,77.5, 36,74, 37,88.5, 38,65, 40,92.5, 40,86.5, 40,82.5, 41,81.5, 42,72.5, 43,71, 43,62, 44,90.5, 44,75,
  45,89.5, 45,82, 46,78, 48,80, 49,75, 50,92, 51,91.5, 51,72, 52,48.5, 52,64, 52,87, 53,60, 53,67, 53,84, 54,71,
  54,78, 55,90, 55,82, 56,76, 56,103.5, 57,96, 57,85, 58,80, 58,72, 59,90, 59,68, 60,84, 60,94, 61,78, 61,99,
  62,88, 62,71, 63,92, 63,82, 64,100, 64,76, 65,86, 65,70, 66,94, 66,80, 67,90, 67,76, 68,84, 68,100, 69,88, 69,71,
  70,93, 70,79, 71,49, 71,86, 71,97, 72,82, 72,92, 73,58, 73,76, 73,88, 74,94, 74,84, 75,102, 75,80, 75,90,
  76,108, 76,86, 76,92, 77,84, 77,96, 77,110, 78,76, 78,90, 78,100, 79,86, 79,94, 80,82, 80,104, 80,92, 81,88,
  81,98, 81,72, 82,90, 82,84, 83,110, 83,96, 83,86, 84,92, 84,102, 84,80, 85,88, 85,98, 86,94, 86,78, 87,90,
  87,104, 88,86, 88,96, 89,92, 89,100, 90,84, 90,94, 91,88, 91,104, 92,96, 92,113, 92,76, 93,90, 94,100, 94,86,
  95,106, 95,94, 96,88, 96,98, 97,76, 97,92, 98,86, 99,90, 100,92,
  72,88, 73,96, 74,90, 75,86, 76,98, 77,90, 78,94, 78,86, 79,90, 79,98, 80,88, 80,96, 81,92, 81,84, 82,94, 82,98,
  83,90, 83,100, 84,88, 84,96, 85,92, 85,84, 86,90, 86,100, 87,94, 87,86, 88,90, 88,102, 89,88, 89,96, 90,92,
  90,100, 91,96, 92,90, 93,94, 94,92, 95,90, 96,96, 70,84, 68,90, 66,86, 64,90, 62,84, 60,88, 76,80, 80,78,
  84,76, 88,80, 92,84,
];
const totalCore = [
  70,88, 71,92, 72,84, 73,90, 74,88, 75,94, 76,88, 77,92, 78,82, 79,88, 80,90, 80,100, 81,94, 82,88, 82,92, 83,94,
  84,90, 84,84, 85,94, 85,100, 86,88, 86,96, 87,92, 88,94, 88,88, 89,94, 90,88, 90,96, 91,92, 92,94, 93,88, 93,98,
  94,96, 95,98, 96,92, 97,96, 66,90, 68,86, 64,84, 62,90, 58,86, 56,84,
];

// ---- fitted curves, flat [x, fit, lower, upper, ...] ----
const fev1Fit = [14,72,68,78, 20,79,76,82, 25,82,80,84, 30,84.5,83,86, 40,87.5,86.5,88.5, 50,89,88,90, 60,90,89,91,
  70,90.5,89.5,91.5, 80,90.5,89.5,91.5, 90,90.3,89,91.6, 100,90,88,92, 110,89.5,86.5,92.5, 122,89,84.5,93.5];
const fvcFit = [30,80.5,74.5,86.5, 40,84,81,87, 50,86.5,84.5,88.5, 60,88,86.5,89.5, 70,89,88,90, 80,89.5,88.7,90.3,
  90,89.5,88.7,90.3, 100,89,88,90, 110,88.3,86.8,89.8, 120,87,85,89, 130,85.5,82.5,88.5, 140,84,80,88, 157,82.5,77.5,88];
const walkDistFit = [98,88.5,72.5,102, 115,80,71,89, 130,76.5,70.5,82.5, 152,74.7,70.5,78.5, 196,75.5,73,78,
  274,80.3,79,81.6, 385,85.6,84.8,86.4, 496,90.2,89.5,91, 607,93,92,94, 729,94.7,92.8,96];
const catFit = [0,90.5,89,92, 10,89,88.3,89.7, 20,87,86,88, 30,85.5,83.5,87.5, 37,84.5,82,87];
const ccqFit = [0,90.5,89,92, 1,89,88.3,89.7, 2,87,86.2,87.8, 3,85.5,84.3,86.7, 4,83.6,81.6,85.6, 5.4,81,78,84];
const hadsDFit = [0,92,90,94, 0.5,90.5,89,92, 1,89.3,88.2,90.4, 2,87.8,87,88.6, 3,87.2,86.4,88, 5,86.8,86,87.6,
  8,86.4,85.4,87.4, 12,86.2,84.8,87.6, 17,86,84,88];
const hadsAFit = [0,88.2,86.5,90, 5,88.2,87.3,89.1, 10,88.2,87.2,89.2, 15,88.1,86.5,89.7, 18,88,85.5,90.5];
const stepsFit = [200,51,49,53, 300,56,54,58, 500,62.5,60.5,64.5, 800,68,66.5,69.5, 1200,72.5,71,74, 2000,77.5,76.5,78.5,
  3000,81.5,80.7,82.3, 4500,85,84.2,85.8, 6000,87.5,86.7,88.3, 8000,90,89.2,90.8, 10000,92.5,91.7,93.3,
  12500,95,94,96, 15000,97.5,96.3,98.7, 17500,100,98.2,101.8, 20000,102.5,100,105, 22500,105,102,108, 25500,108.5,104.7,112.3];
const mvpaFit = [4,67,62.5,72, 10,71.5,68.5,74.5, 20,76,74,78, 30,79,77.5,80.5, 50,83,82,84, 75,86.5,85.8,87.2,
  100,89.5,88.8,90.2, 150,93.5,92.5,94.5, 200,96.5,94.5,98.5, 250,99.5,96,103, 305,102.4,96,108.4];
const walkTimeFit = [2,52,50,54, 4,60,57,63, 8,67,64.5,69.5, 15,74,72.5,75.5, 30,80.5,79.5,81.5, 50,85,84.3,85.7,
  100,92.3,91.5,93, 150,95.5,94.3,96.7, 200,98.5,96.5,100.5, 272,104.3,100.3,108.3];
const vmuFit = [0,81.5,80,83, 500,89,88.3,89.7, 1000,96.5,95.5,97.5, 1500,104,102,106, 2270,115.5,111,120];
const intensityFit = [0.95,67.5,61,74, 1.1,74,70,78, 1.3,80.5,78.5,82.5, 1.5,84.5,83.3,85.7, 1.75,88.3,87.5,89.1,
  2.0,92,91.3,92.7, 2.25,95.5,94.6,96.4, 2.5,99,97.5,100.5, 2.75,102.5,99.8,105.2, 3.0,106.5,102.3,110.7, 3.13,109,103.5,114.5];
const amountFit = [0,75,72,78, 10,75,72.8,77.2, 20,75.8,74,77.6, 30,77.5,76.2,78.8, 40,80.3,79.3,81.3, 50,83.5,82.7,84.3,
  60,86.7,86,87.4, 70,89.5,88.8,90.2, 80,91.7,91,92.4, 90,93,92,94, 100,93,91,95];
const difficultyFit = [31,78,76.5,79.5, 50,82.2,81.3,83.1, 70,86.8,86.2,87.4, 85,90,89.3,90.7, 100,93,91.5,94.5];
const totalFit = [20,72.8,68.8,76.8, 30,74,71,77, 40,76,74,78, 50,79.5,78.3,80.7, 60,84,83.2,84.8, 70,88,87.3,88.7,
  80,91.5,90.8,92.2, 90,93.5,92.7,94.3, 100,95,93,97];

// ---- boxplot (dyspnoea) ----
const grades = ["Grade 0", "Grade 1", "Grade 2", "Grade 3", "Grade 4"];
const gradeBoxes = [
  [72.3, 86.6, 92.6, 96.8, 111.6],
  [71, 84.4, 90, 95, 110.9],
  [64.6, 80.2, 87, 92.9, 106.2],
  [65.4, 77.8, 84, 88.7, 100.4],
  [62.7, 74.2, 79.7, 84.4, 88.8],
];
const gradeOutliers = [[0, 114.8], [0, 113.8], [0, 64.2], [1, 60], [1, 58.5], [2, 49.4], [3, 110], [3, 60.4], [3, 44.2]];

const yTicks = [40, 60, 80, 100, 120];
const fvcTickLabels = ["40", "80", "120", "120"];
const stepsTickLabels = ["0", "5000", "10\u2009000", "15\u2009000", "20\u2009000", "25\u2009000"];

const pairs = (a: number[]) => {
  const out: number[][] = [];
  for (let i = 0; i < a.length; i += 2) out.push([a[i], a[i + 1]]);
  return out;
};
const strips = (s: [number, number[]][]) => s.flatMap(([x, ys]) => ys.map((y) => [x, y]));
const quads = (a: number[]) => {
  const out: number[][] = [];
  for (let i = 0; i < a.length; i += 4) out.push([a[i], a[i + 1], a[i + 2], a[i + 3]]);
  return out;
};

type Panel = {
  name: string;
  left: number; right: number; y120: number; y40: number; axisY: number;
  xmin?: number; xmax?: number; ticks?: number[]; tickLabels?: string[];
  points?: number[][]; fit?: number[][];
  p: string[]; pDx: number; lm: number; ng: number; yng: number;
  box?: boolean;
};

const P = (a: string, b: string, c: string) => [a, b, c];

// pixel boxes of the 16 panels (axis line positions)
const panels: Panel[] = [
  { name: "FEV₁(% pred)", left: 42, right: 287, y120: 6, y40: 174, axisY: 178, xmin: 12, xmax: 124.5,
    ticks: [20, 40, 60, 80, 100, 120], points: pairs(fev1Points.concat(fev1Core)), fit: quads(fev1Fit),
    p: P("#p<0.001", "p<0.001", "p<0.001"), pDx: 7, lm: 9, ng: 22, yng: 30 },
  { name: "FVC (% pred)", left: 343.3, right: 593.3, y120: 6, y40: 174, axisY: 178, xmin: 27.2, xmax: 162.7,
    ticks: [40, 80, 120, 160], tickLabels: fvcTickLabels, points: pairs(fvcPoints.concat(fvcCore)), fit: quads(fvcFit),
    p: P("#p=0.716", "p=na", "+p=na"), pDx: 3, lm: 9, ng: 22, yng: 27 },
  { name: "Dyspnoea (mMRC grades, 0–4)", left: 646.7, right: 893, y120: 7.3, y40: 171.7, axisY: 178, box: true,
    p: P("#p<0.001", "p<0.001", "p<0.001"), pDx: 5, lm: 7, ng: 21, yng: 28 },
  { name: "6-min walk distance (m)", left: 946.7, right: 1195, y120: 7.3, y40: 174, axisY: 179, xmin: -14, xmax: 813,
    ticks: [0, 200, 400, 600, 800], points: pairs(walkDistPoints.concat(walkDistCore)), fit: quads(walkDistFit),
    p: P("#p<0.001", "p<0.001", "p<0.001"), pDx: 5, lm: 9, ng: 20, yng: 28 },

  { name: "HRQoL (CAT score, 0–40)", left: 40.9, right: 289.7, y120: 230, y40: 397.3, axisY: 405, xmin: -0.97, xmax: 40.58,
    ticks: [0, 10, 20, 30, 40], points: strips(catStrips.concat(catCore)), fit: quads(catFit),
    p: P("#p=0.001", "p=0.017", "p=0.099"), pDx: 1, lm: 5, ng: 19, yng: 27 },
  { name: "HRQoL (CCQ total score, 0–6)", left: 343.6, right: 593.1, y120: 230, y40: 397.3, axisY: 405, xmin: -0.105, xmax: 6.115,
    ticks: [0, 2, 4, 6], points: pairs(ccqPoints.concat(ccqCore)), fit: quads(ccqFit),
    p: P("#p<0.001", "p=0.004", "p=0.183"), pDx: 4, lm: 5, ng: 19, yng: 30 },
  { name: "Depression (HADS-D score, 0–21)", left: 646.7, right: 893.9, y120: 230, y40: 397.3, axisY: 404, xmin: -0.42, xmax: 20.26,
    ticks: [0, 5, 10, 15, 20], points: strips(hadsDStrips.concat(hadsDCore)), fit: quads(hadsDFit),
    p: P("#p<0.001", "p<0.001", "p=0.043"), pDx: 2, lm: 5, ng: 19, yng: 29 },
  { name: "Anxiety (HADS-A score, 0–21)", left: 946.3, right: 1193.1, y120: 230, y40: 397.3, axisY: 404, xmin: -0.42, xmax: 20.23,
    ticks: [0, 5, 10, 15, 20], points: strips(hadsAStrips.concat(hadsACore)), fit: quads(hadsAFit),
    p: P("#p=0.931", "p=na", "p=na"), pDx: 2, lm: 5, ng: 19, yng: 29 },

  { name: "Steps (steps·day⁻¹)", left: 40.9, right: 289.7, y120: 452.3, y40: 620, axisY: 624.3, xmin: -533, xmax: 25980,
    ticks: [0, 5000, 10000, 15000, 20000, 25000], tickLabels: stepsTickLabels, points: pairs(stepsPoints.concat(stepsCore)),
    fit: quads(stepsFit), p: P("#p<0.001", "p<0.001", "p=na"), pDx: 3, lm: 10, ng: 23.5, yng: 29 },
  { name: "Time in MVPA (min·day⁻¹)", left: 343.2, right: 593.1, y120: 452.3, y40: 620, axisY: 624.3, xmin: -6.4, xmax: 312.1,
    ticks: [0, 100, 200, 300], points: pairs(mvpaPoints.concat(mvpaCore)), fit: quads(mvpaFit),
    p: P("#p<0.001", "p=na", "p=na"), pDx: 9.5, lm: 10, ng: 23.5, yng: 31 },
  { name: "Walking time (min·day⁻¹)", left: 646.7, right: 893.9, y120: 451.7, y40: 620.7, axisY: 625, xmin: -5.8, xmax: 303.9,
    ticks: [0, 100, 200, 300], points: pairs(walkTimePoints.concat(walkTimeCore)), fit: quads(walkTimeFit),
    p: P("#p<0.001", "p<0.001", "p<0.001"), pDx: 4, lm: 10, ng: 23.5, yng: 27 },
  { name: "VMU (VMU·day⁻¹)", left: 946.3, right: 1193.9, y120: 453.3, y40: 621, axisY: 625.7, xmin: -52, xmax: 2537,
    ticks: [0, 500, 1000, 1500, 2000, 2500], points: pairs(vmuPoints.concat(vmuCore)), fit: quads(vmuFit),
    p: P("#p<0.001", "p<0.001", "p=0.027"), pDx: 4.5, lm: 10, ng: 23.5, yng: 27 },

  { name: "Intensity during locomotion (m·s⁻²)", left: 40.9, right: 289.7, y120: 675.7, y40: 844, axisY: 847.7, xmin: 0.887, xmax: 3.165,
    ticks: [1, 1.5, 2, 2.5, 3], points: pairs(intensityPoints.concat(intensityCore)), fit: quads(intensityFit),
    p: P("#p<0.001", "p<0.001", "p<0.001"), pDx: 17, lm: 9.5, ng: 26, yng: 29 },
  { name: "Experienced amount of physical activity (C-PPAC amount score, 0–100)", left: 343.2, right: 595, y120: 675.7, y40: 844, axisY: 847.7,
    xmin: -1.9, xmax: 103, ticks: [0, 20, 40, 60, 80, 100], points: strips(amountStrips.concat(amountCore)), fit: quads(amountFit),
    p: P("#p<0.001", "p<0.001", "p=na"), pDx: 1, lm: 9.5, ng: 26, yng: 30 },
  { name: "Experienced difficulty of physical activity (C-PPAC difficulty score, 0–100)", left: 647.1, right: 893.9, y120: 675.7, y40: 844, axisY: 847.7,
    xmin: 18.46, xmax: 101.04, ticks: [20, 40, 60, 80, 100], points: pairs(difficultyPoints.concat(difficultyCore)),
    fit: quads(difficultyFit), p: P("#p<0.001", "p<0.001", "p<0.001"), pDx: 4, lm: 11, ng: 28, yng: 27.5 },
  { name: "Physical activity experience (C-PPAC total score, 0–100)", left: 946.7, right: 1193.9, y120: 675.7, y40: 844, axisY: 847.7,
    xmin: 18.33, xmax: 101.2, ticks: [20, 40, 60, 80, 100], points: pairs(totalPoints.concat(totalCore)), fit: quads(totalFit),
    p: P("#p<0.001", "p<0.001", "p=0.005"), pDx: 3, lm: 11, ng: 28, yng: 27.5 },
];

const pRich = {
  m: { fontSize: 5.5, verticalAlign: "top", fill: INK, fontFamily: FONT },
  d: { fontSize: 7, verticalAlign: "top", fill: "#000", fontFamily: FONT },
};

const pLine = (s: string, i: number) => {
  if (i === 0) return "{m|#}" + s.slice(1);
  if (i === 1) return "{d|•}" + s;
  return s.startsWith("+") ? s : "{m|+}" + s;
};

function buildOption() {
  const grid: any[] = [];
  const xAxis: any[] = [];
  const yAxis: any[] = [];
  const series: any[] = [];
  const graphic: any[] = [];

  panels.forEach((p, i) => {
    const k = (p.y40 - p.y120) / 80;
    const ymax = 121;
    const top = p.y120 - (ymax - 120) * k;
    const ymin = 40 - (p.axisY - p.y40) / k;
    grid.push({ left: p.left, top, width: p.right - p.left, height: p.axisY - top });

    const lineStyle = { color: INK, width: 1 };
    const labelStyle = { color: INK, fontSize: 8, fontFamily: FONT };
    const nameStyle = { color: INK, fontSize: 9, fontFamily: FONT };

    if (p.box) {
      xAxis.push({
        type: "category", gridIndex: i, data: grades, boundaryGap: true,
        axisLine: { lineStyle }, axisTick: { show: false },
        axisLabel: { ...labelStyle, margin: p.lm },
        name: p.name, nameLocation: "middle", nameGap: p.ng, nameTextStyle: nameStyle,
      });
    } else {
      const labels = p.tickLabels;
      const ticks = p.ticks as number[];
      xAxis.push({
        type: "value", gridIndex: i, min: p.xmin, max: p.xmax,
        axisLine: { onZero: false, lineStyle },
        axisTick: { length: 4, lineStyle, customValues: ticks },
        axisLabel: {
          ...labelStyle, margin: p.lm, customValues: ticks,
          formatter: (v: number) => (labels ? labels[ticks.indexOf(v)] ?? String(v) : String(v)),
        },
        splitLine: { show: false },
        name: p.name, nameLocation: "middle", nameGap: p.ng, nameTextStyle: nameStyle,
      });
    }
    yAxis.push({
      type: "value", gridIndex: i, min: ymin, max: ymax,
      axisLine: { show: true, onZero: false, lineStyle },
      axisTick: { show: true, length: 4, lineStyle, customValues: yTicks },
      axisLabel: { ...labelStyle, margin: 6, customValues: yTicks, formatter: (v: number) => String(v) },
      splitLine: { show: false },
      name: CADENCE, nameLocation: "middle", nameGap: p.yng,
      nameTextStyle: { color: INK, fontSize: 8.2, fontFamily: FONT },
    });

    if (p.box) {
      series.push({
        type: "boxplot", xAxisIndex: i, yAxisIndex: i, data: gradeBoxes, boxWidth: [24, 24],
        itemStyle: { color: "#a9a9a9", borderColor: "#2e2e2e", borderWidth: 1.2 },
      });
      series.push({
        type: "scatter", xAxisIndex: i, yAxisIndex: i, data: gradeOutliers, symbolSize: 5,
        itemStyle: { color: DOT }, silent: true,
      });
    } else {
      const fit = p.fit as number[][];
      series.push({
        type: "custom", xAxisIndex: i, yAxisIndex: i, silent: true, z: 1,
        data: fit.map((r) => [r[0], r[2], r[3]]),
        encode: { x: 0, y: [1, 2] },
        renderItem: (params: any, api: any) => {
          if (params.dataIndex !== 0) return null;
          const upper = fit.map((r) => api.coord([r[0], r[3]]));
          const lower = fit.map((r) => api.coord([r[0], r[2]])).reverse();
          return {
            type: "polygon",
            shape: { points: upper.concat(lower), smooth: 0.15 },
            style: { fill: "#c4c4c4", opacity: 0.85 },
          };
        },
      });
      series.push({
        type: "scatter", xAxisIndex: i, yAxisIndex: i, data: p.points, symbolSize: 5, z: 2,
        itemStyle: { color: DOT }, silent: true,
      });
      series.push({
        type: "line", xAxisIndex: i, yAxisIndex: i, data: fit.map((r) => [r[0], r[1]]),
        smooth: 0.3, showSymbol: false, z: 3, silent: true,
        lineStyle: { color: "#262626", width: 1.3 },
      });
    }

    p.p.forEach((s, j) => {
      graphic.push({
        type: "text", silent: true,
        x: p.right - p.pDx, y: p.y40 - 2.5 - (2 - j) * 11.3,
        style: {
          text: pLine(s, j), rich: pRich, fill: INK, fontSize: 8, fontFamily: FONT,
          align: "right", verticalAlign: "middle", textAlign: "right", textVerticalAlign: "middle",
        },
      });
    });
  });

  return { animation: false, backgroundColor: "#ffffff", grid, xAxis, yAxis, series, graphic };
}

const App: React.FC = () => {
  const chartRef = useRef<HTMLDivElement>(null);

  useEffect(() => {
    if (!chartRef.current) return;
    const chart = echarts.init(chartRef.current, undefined, { renderer: "svg" });
    chart.setOption(buildOption());
    return () => {
      chart.dispose();
    };
  }, []);

  return (
    <div
      ref={chartRef}
      style={{ position: "fixed", left: 0, top: 0, width: "1200px", height: "884px", background: "#fff" }}
    />
  );
};

export default App;
